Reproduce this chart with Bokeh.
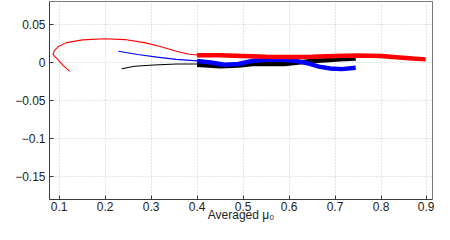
from bokeh.plotting import figure
from bokeh.models import LinearAxis, FixedTicker, Range1d
from bokeh.embed import file_html
from bokeh.resources import INLINE

# ---- data ----
red_thin_x = [0.123, 0.109, 0.0985, 0.0895, 0.0867, 0.0895, 0.0985, 0.116, 0.151, 0.20, 0.243, 0.285, 0.32, 0.355, 0.38, 0.40]
red_thin_y = [-0.0117, -0.0042, 0.0029, 0.0083, 0.0112, 0.0154, 0.021, 0.026, 0.0296, 0.031, 0.030, 0.026, 0.021, 0.0146, 0.011, 0.0098]
red_thick_x = [0.40, 0.45, 0.50, 0.55, 0.60, 0.65, 0.70, 0.75, 0.80, 0.84, 0.87, 0.897]
red_thick_y = [0.0095, 0.0095, 0.0085, 0.0075, 0.0072, 0.0075, 0.0085, 0.0092, 0.0085, 0.0065, 0.005, 0.004]

blue_thin_x = [0.229, 0.271, 0.313, 0.355, 0.40]
blue_thin_y = [0.0146, 0.0104, 0.007, 0.004, 0.002]
blue_thick_x = [0.40, 0.43, 0.46, 0.49, 0.52, 0.55, 0.585, 0.615, 0.64, 0.665, 0.69, 0.715, 0.745]
blue_thick_y = [0.002, 0.0, -0.003, -0.002, 0.002, 0.0035, 0.0035, 0.002, -0.001, -0.0055, -0.008, -0.0088, -0.007]

black_thin_x = [0.236, 0.264, 0.306, 0.355, 0.40]
black_thin_y = [-0.0083, -0.005, -0.0033, -0.002, -0.002]
black_thick_x = [0.40, 0.45, 0.49, 0.52, 0.56, 0.59, 0.62, 0.65, 0.68, 0.71, 0.745]
black_thick_y = [-0.003, -0.005, -0.004, -0.002, -0.002, -0.002, 0.0, 0.002, 0.003, 0.004, 0.005]

x_ticks = [0.1, 0.2, 0.3, 0.4, 0.5, 0.6, 0.7, 0.8, 0.9]
y_ticks = [-0.15, -0.1, -0.05, 0.0, 0.05]
y_tick_labels = ["\u22120.15", "\u22120.1", "\u22120.05", "0", "0.05"]
x_label = "Averaged \u03bc\u2080"

FONT = "Liberation Sans"
AX = "#3a3a3a"

p = figure(width=434, height=224, output_backend="svg", toolbar_location=None,
           x_range=Range1d(0.079, 0.912), y_range=Range1d(-0.18, 0.08),
           x_axis_location=None, y_axis_location=None,
           min_border_left=49, min_border_right=2, min_border_top=1, min_border_bottom=0)
p.outline_line_color = "#777777"
p.outline_line_width = 1
p.background_fill_color = "white"
p.border_fill_color = "white"

def style(ax):
    ax.major_tick_in = 4
    ax.major_tick_out = 0
    ax.minor_tick_line_color = None
    ax.axis_line_color = AX
    ax.major_tick_line_color = AX
    ax.major_label_text_font = FONT
    ax.major_label_text_font_size = "12px"
    ax.major_label_text_color = "#222222"

xb = LinearAxis(ticker=FixedTicker(ticks=x_ticks))
style(xb)
xb.major_label_standoff = 2
xb.axis_label = x_label
xb.axis_label_text_font = FONT
xb.axis_label_text_font_size = "12px"
xb.axis_label_text_font_style = "normal"
xb.axis_label_text_color = "#222222"
xb.axis_label_standoff = -6
p.add_layout(xb, "below")

yl = LinearAxis(ticker=FixedTicker(ticks=y_ticks))
style(yl)
yl.major_label_overrides = {t: s for t, s in zip(y_ticks, y_tick_labels)}
yl.major_label_standoff = 4
p.add_layout(yl, "left")

p.xgrid.ticker = FixedTicker(ticks=x_ticks)
p.ygrid.ticker = FixedTicker(ticks=y_ticks)
for g in (p.xgrid, p.ygrid):
    g.grid_line_color = "#c8c8c8"
    g.grid_line_dash = "1 2"
    g.grid_line_width = 1

p.line(red_thin_x, red_thin_y, line_color="#ff0000", line_width=1.1)
p.line(blue_thin_x, blue_thin_y, line_color="#0000ff", line_width=1.1)
p.line(black_thin_x, black_thin_y, line_color="#000000", line_width=1.1)
p.line(black_thick_x, black_thick_y, line_color="#000000", line_width=4.5)
p.line(blue_thick_x, blue_thick_y, line_color="#0000ff", line_width=4.5)
p.line(red_thick_x, red_thick_y, line_color="#ff0000", line_width=4.5)

open("out.html", "w").write(file_html(p, INLINE))
